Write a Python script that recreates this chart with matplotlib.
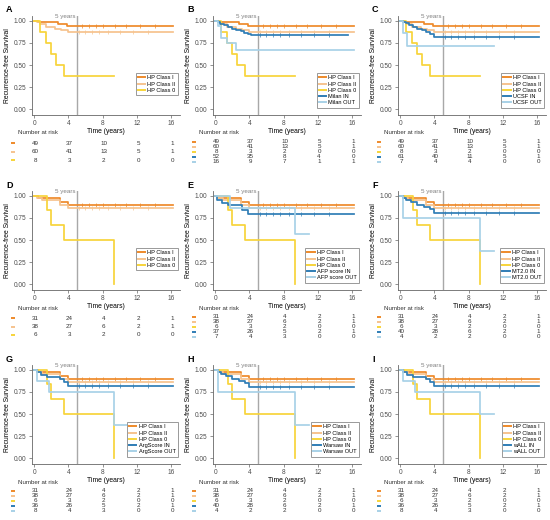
import matplotlib
matplotlib.use("Agg")
import matplotlib.pyplot as plt
import numpy as np

plt.rcParams['font.family'] = ['Liberation Sans', 'DejaVu Sans']

# colours
c_hp1 = '#EE8A2A'
c_hp2 = '#F6C38E'
c_hp0 = '#F7D43A'
c_in = '#2F7DB6'
c_out = '#A8D1E7'

# ---- cohort 1 (A, B, C) HP classes
hp1_c1_t = [0, 0.5, 2.8, 3.9, 16.2]
hp1_c1_s = [1.0, 0.98, 0.96, 0.935, 0.935]
hp2_c1_t = [0, 0.3, 0.7, 1.4, 2.4, 3.2, 4.0, 16.2]
hp2_c1_s = [1.0, 0.983, 0.966, 0.93, 0.91, 0.895, 0.87, 0.87]
hp0_c1_t = [0, 0.75, 1.45, 2.0, 2.55, 3.5, 9.3]
hp0_c1_s = [1.0, 0.875, 0.75, 0.625, 0.5, 0.375, 0.375]

# ---- cohort 2 (D - I) HP classes
hp1_c2_t = [0, 0.5, 3.0, 4.0, 16.2]
hp1_c2_s = [1.0, 0.97, 0.93, 0.89, 0.89]
hp2_c2_t = [0, 0.3, 0.9, 3.0, 4.0, 16.2]
hp2_c2_s = [1.0, 0.974, 0.947, 0.89, 0.86, 0.86]
hp0_c2_t = [0, 1.55, 2.0, 3.5, 9.3]
hp0_c2_s = [1.0, 0.833, 0.667, 0.5, 0.0]

# ---- scores IN / OUT
milan_in_t = [0, 0.3, 0.6, 1.0, 1.5, 2.0, 2.5, 3.0, 3.4, 3.8, 4.2, 15.5]
milan_in_s = [1.0, 0.98, 0.96, 0.95, 0.93, 0.91, 0.89, 0.88, 0.865, 0.85, 0.84, 0.84]
milan_out_t = [0, 0.4, 0.75, 1.45, 2.4, 16.2]
milan_out_s = [1.0, 0.94, 0.81, 0.75, 0.67, 0.67]

ucsf_in_t = [0, 0.3, 0.7, 1.0, 1.5, 2.0, 2.6, 3.0, 3.5, 4.0, 16.2]
ucsf_in_s = [1.0, 0.98, 0.97, 0.95, 0.93, 0.91, 0.89, 0.87, 0.85, 0.815, 0.815]
ucsf_out_t = [0, 0.3, 0.8, 11.0]
ucsf_out_s = [1.0, 0.857, 0.714, 0.714]

afp_in_t = [0, 0.25, 0.8, 1.5, 3.2, 3.9, 16.2]
afp_in_s = [1.0, 0.95, 0.92, 0.89, 0.84, 0.79, 0.79]
afp_out_t = [0, 1.8, 9.3, 11.0]
afp_out_s = [1.0, 0.857, 0.571, 0.571]

mt_in_t = [0, 0.3, 0.7, 1.3, 2.0, 2.8, 3.5, 4.0, 16.2]
mt_in_s = [1.0, 0.975, 0.95, 0.925, 0.90, 0.875, 0.85, 0.81, 0.81]
mt_out_t = [0, 0.3, 9.3, 11.0]
mt_out_s = [1.0, 0.75, 0.375, 0.375]

arg_in_t = [0, 0.3, 0.8, 1.5, 3.0, 3.5, 4.0, 16.2]
arg_in_s = [1.0, 0.97, 0.94, 0.915, 0.89, 0.86, 0.82, 0.82]
arg_out_t = [0, 0.3, 1.8, 9.3, 11.0]
arg_out_s = [1.0, 0.875, 0.75, 0.375, 0.375]

wars_in_t = [0, 0.3, 0.7, 1.3, 2.0, 2.8, 3.5, 4.0, 16.2]
wars_in_s = [1.0, 0.975, 0.95, 0.925, 0.90, 0.875, 0.85, 0.81, 0.81]
wars_out_t = [0, 0.3, 9.3, 11.0]
wars_out_s = [1.0, 0.75, 0.375, 0.375]

wall_in_t = [0, 0.3, 0.8, 1.5, 3.0, 3.5, 4.0, 16.2]
wall_in_s = [1.0, 0.97, 0.94, 0.915, 0.89, 0.86, 0.82, 0.82]
wall_out_t = [0, 0.3, 1.8, 9.3, 11.0]
wall_out_s = [1.0, 0.875, 0.75, 0.5, 0.5]

# censor times
cens_a = [5.6, 6.4, 7.2, 8.1, 9.5, 10.8, 12.4, 14.1]
cens_b = [5.3, 6.0, 6.8, 7.6, 8.7, 10.1, 11.6, 13.3]

# ---- numbers at risk
risk_times = [0, 4, 8, 12, 16]
risk_hp1_c1 = [49, 37, 10, 5, 1]
risk_hp2_c1 = [60, 41, 13, 5, 1]
risk_hp0_c1 = [8, 3, 2, 0, 0]
risk_hp1_c2 = [31, 24, 4, 2, 1]
risk_hp2_c2 = [38, 27, 6, 2, 1]
risk_hp0_c2 = [6, 3, 2, 0, 0]
risk_milan_in = [52, 35, 8, 4, 0]
risk_milan_out = [16, 9, 7, 1, 1]
risk_ucsf_in = [61, 40, 11, 5, 1]
risk_ucsf_out = [7, 4, 4, 0, 0]
risk_afp_in = [37, 26, 5, 2, 1]
risk_afp_out = [7, 4, 3, 0, 0]
risk_mt_in = [40, 28, 6, 2, 1]
risk_mt_out = [4, 2, 2, 0, 0]
risk_arg_in = [36, 26, 5, 2, 1]
risk_arg_out = [8, 4, 3, 0, 0]
risk_wars_in = [40, 28, 6, 2, 1]
risk_wars_out = [4, 2, 2, 0, 0]
risk_wall_in = [36, 26, 5, 2, 1]
risk_wall_out = [8, 4, 3, 0, 0]

hp_labels = ['HP Class I', 'HP Class II', 'HP Class 0']

hp_c1 = [(hp1_c1_t, hp1_c1_s, risk_hp1_c1, c_hp1, cens_a),
         (hp2_c1_t, hp2_c1_s, risk_hp2_c1, c_hp2, cens_b),
         (hp0_c1_t, hp0_c1_s, risk_hp0_c1, c_hp0, [])]
hp_c2 = [(hp1_c2_t, hp1_c2_s, risk_hp1_c2, c_hp1, cens_a),
         (hp2_c2_t, hp2_c2_s, risk_hp2_c2, c_hp2, cens_b),
         (hp0_c2_t, hp0_c2_s, risk_hp0_c2, c_hp0, [])]

panels = [
    ('A', hp_c1, None),
    ('B', hp_c1, ('Milan', milan_in_t, milan_in_s, risk_milan_in, milan_out_t, milan_out_s, risk_milan_out)),
    ('C', hp_c1, ('UCSF', ucsf_in_t, ucsf_in_s, risk_ucsf_in, ucsf_out_t, ucsf_out_s, risk_ucsf_out)),
    ('D', hp_c2, None),
    ('E', hp_c2, ('AFP score', afp_in_t, afp_in_s, risk_afp_in, afp_out_t, afp_out_s, risk_afp_out)),
    ('F', hp_c2, ('MT2.0', mt_in_t, mt_in_s, risk_mt_in, mt_out_t, mt_out_s, risk_mt_out)),
    ('G', hp_c2, ('ArgScore', arg_in_t, arg_in_s, risk_arg_in, arg_out_t, arg_out_s, risk_arg_out)),
    ('H', hp_c2, ('Warsaw', wars_in_t, wars_in_s, risk_wars_in, wars_out_t, wars_out_s, risk_wars_out)),
    ('I', hp_c2, ('wALL', wall_in_t, wall_in_s, risk_wall_in, wall_out_t, wall_out_s, risk_wall_out)),
]

W, H = 550, 520
fig = plt.figure(figsize=(5.5, 5.2), dpi=100)


def px_axes(left, top, width, height):
    return fig.add_axes([left / W, 1 - (top + height) / H, width / W, height / H])


def step_val(t, s, x):
    i = np.searchsorted(t, x, side='right') - 1
    return s[max(i, 0)]


col_x = [0, 181, 366]
row_y = [0, 175, 349]
gray = '#666666'

for k, (lab, hp, score) in enumerate(panels):
    ox = col_x[k % 3]
    oy = row_y[k // 3]
    ax = px_axes(ox + 31.5, oy + 16, 148, 99)

    curves = list(hp)
    labels = list(hp_labels)
    if score is not None:
        name, it, is_, ir, ot, os_, orr = score
        curves.append((it, is_, ir, c_in, cens_b))
        curves.append((ot, os_, orr, c_out, []))
        labels += [name + ' IN', name + ' OUT']

    ax.axvline(5, color='#a8a8a8', lw=1.0, zorder=1)
    ax.text(4.9, 1.045, '5 years', ha='right', va='center', fontsize=4.5,
            color='#808080')

    handles = []
    for (t, s, r, c, cens) in curves:
        h, = ax.step(t, s, where='post', color=c, lw=1.25, zorder=3)
        handles.append(h)
        if cens:
            cy = [step_val(t, s, x) for x in cens]
            ax.plot(cens, cy, ls='none', marker='|', ms=2.2, mew=0.5,
                    color=c, zorder=3)

    ax.set_xlim(-0.3, 17.0)
    ax.set_ylim(-0.064, 1.053)
    ax.set_xticks(risk_times)
    ax.set_yticks([0, 0.25, 0.5, 0.75, 1.0])
    ax.set_yticklabels(['0.00', '0.25', '0.50', '0.75', '1.00'])
    for sp in ['top', 'right']:
        ax.spines[sp].set_visible(False)
    for sp in ['left', 'bottom']:
        ax.spines[sp].set_color(gray)
        ax.spines[sp].set_linewidth(0.6)
    ax.tick_params(labelsize=4.7, length=2, width=0.5, color=gray,
                   labelcolor='#4d4d4d', pad=1.5)
    ax.set_xlabel('Time (years)', fontsize=4.9, labelpad=1)
    ax.set_ylabel('Recurrence-free Survival', fontsize=4.9, labelpad=2)

    # legend anchored in pixel space
    ax_left = ox + 31.5
    ax_top = oy + 16
    bx = (ox + 178 - ax_left) / 148
    by = 1 - (oy + 73 - ax_top) / 99
    leg = ax.legend(handles, labels, loc='upper right', bbox_to_anchor=(bx, by),
                    fontsize=4.1, frameon=True, fancybox=False, framealpha=1,
                    edgecolor='#999999', handlelength=1.3, handletextpad=0.4,
                    labelspacing=0.22, borderpad=0.4, borderaxespad=0)
    leg.get_frame().set_linewidth(0.7)
    for lh in leg.get_lines():
        lh.set_linewidth(1.4)

    fig.text((ox + 6) / W, 1 - (oy + 10) / H, lab, fontsize=6.5,
             fontweight='bold', ha='left', va='center')

    # risk table
    at = px_axes(ox + 31.5, oy + 128, 148, 40)
    at.set_xlim(-0.3, 17.0)
    at.set_ylim(168, 128)
    at.axis('off')
    at.text(-1.9, 133, 'Number at risk', fontsize=4.4, ha='left', va='center',
            color='#333333')
    n = len(curves)
    if n == 3:
        rows = [143.3, 151.7, 160.0]
    else:
        rows = [141.7, 146.7, 151.7, 156.7, 161.7]
    for (t, s, r, c, cens), yy in zip(curves, rows):
        at.plot([-2.5], [yy], marker='_', ms=3, mew=1.4, color=c, clip_on=False)
        for x, v in zip(risk_times, r):
            at.text(x + 0.15, yy, str(v), fontsize=4.5, ha='center', va='center',
                    color='#333333')

fig.savefig('out.png', dpi=100)
